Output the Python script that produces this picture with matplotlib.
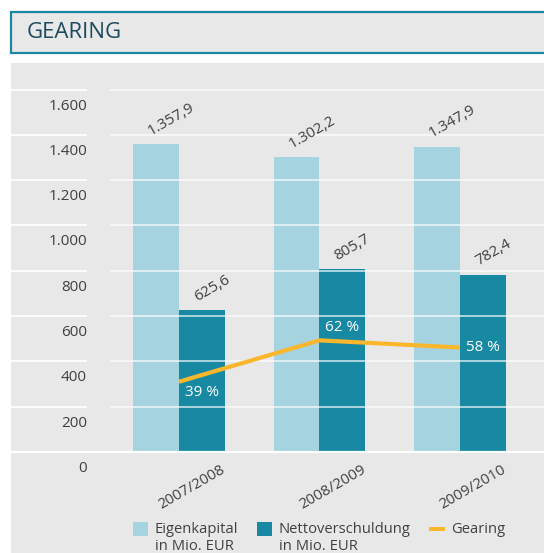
import matplotlib.pyplot as plt
import numpy as np
from matplotlib.patches import Rectangle, Patch
from matplotlib.legend_handler import HandlerPatch
from matplotlib.transforms import ScaledTranslation

plt.rcParams['font.family'] = ['Open Sans', 'DejaVu Sans']

# data
years = ["2007/2008", "2008/2009", "2009/2010"]
equity = [1357.9, 1302.2, 1347.9]        # Eigenkapital, Mio. EUR
net_debt = [625.6, 805.7, 782.4]         # Nettoverschuldung, Mio. EUR
gearing = [39, 62, 58]                   # %
y_ticks = [0, 200, 400, 600, 800, 1000, 1200, 1400, 1600]
y_tick_labels = ["0", "200", "400", "600", "800", "1.000", "1.200", "1.400", "1.600"]

LIGHT = "#a5d3df"
DARK = "#1789a3"
ORANGE = "#fbb72b"
BG = "#e8e8e8"
TXT = "#404040"

W, H = 544, 553
fig = plt.figure(figsize=(W / 100, H / 100), dpi=100)
fig.patch.set_facecolor("white")


def de(v):
    # german number format: 1.357,9
    return f"{v:,.1f}".replace(",", "X").replace(".", ",").replace("X", ".")


# header box and chart panel
fig.add_artist(Rectangle((11 / W, 1 - 53 / H), 540 / W, 41 / H, transform=fig.transFigure,
                         facecolor=BG, edgecolor="#1a87a3", lw=1.6, zorder=-2))
fig.text(27 / W, 1 - 33 / H, "GEARING", fontsize=16, color="#1d4a5d", va="center", ha="left")
fig.add_artist(Rectangle((11 / W, 0), 533 / W, 1 - 63 / H, transform=fig.transFigure,
                         facecolor=BG, edgecolor="none", zorder=-2))

ax = fig.add_axes([110 / W, 1 - 452 / H, 434 / W, (452 - 63) / H])
ax.patch.set_visible(False)
x = np.arange(len(years))
w = 0.327

ax.bar(x - w / 2, equity, w, color=LIGHT, zorder=1)
ax.bar(x + w / 2, net_debt, w, color=DARK, zorder=1)

ax.set_xlim(-0.491, 2.598)
ax.set_ylim(0, 1717)
for s in ax.spines.values():
    s.set_visible(False)
ax.tick_params(length=0)

# gridlines over the bars, plus the short pieces left of the gap
ax.set_yticks(y_ticks)
ax.set_yticklabels(y_tick_labels, fontsize=11, color=TXT)
ax.yaxis.grid(True, color="white", lw=1.2, alpha=0.75, zorder=2)
ax.set_axisbelow(False)
ax.hlines(y_ticks[1:], -0.228, -0.053, transform=ax.get_yaxis_transform(),
          color="white", lw=1.2, clip_on=False)
ax.hlines([0], -0.228, 1.0, transform=ax.get_yaxis_transform(),
          color="white", lw=1.6, clip_on=False, zorder=3)
ax.tick_params(axis="y", pad=16.5)
down = ScaledTranslation(0, -0.145, fig.dpi_scale_trans)
for lbl in ax.get_yticklabels():
    lbl.set_transform(lbl.get_transform() + down)

ax.set_xticks(x)
ax.set_xticklabels(years, fontsize=10.8, color=TXT)
ax.tick_params(axis="x", pad=0)
shift = ScaledTranslation(0.13, -0.35, fig.dpi_scale_trans)
for lbl in ax.get_xticklabels():
    lbl.set_rotation(30)
    lbl.set_rotation_mode("anchor")
    lbl.set_ha("center")
    lbl.set_va("center")
    lbl.set_transform(lbl.get_transform() + shift)

# value labels above the bars
for xi, v in zip(x - w / 2, equity):
    ax.annotate(de(v), (xi, v), xytext=(-3.5, 6.5), textcoords="offset points",
                rotation=30, rotation_mode="anchor", ha="left", va="baseline",
                fontsize=11, color=TXT)
for xi, v in zip(x + w / 2, net_debt):
    ax.annotate(de(v), (xi, v), xytext=(-3.5, 6.5), textcoords="offset points",
                rotation=30, rotation_mode="anchor", ha="left", va="baseline",
                fontsize=11, color=TXT)

# gearing on its own scale
ax2 = ax.twinx()
ax2.set_ylim(0, 216)
ax2.axis("off")
ax2.plot(x, gearing, color=ORANGE, lw=3, solid_capstyle="butt")
label_dy = [-8, 9.5, 0]
for xi, g, dy in zip(x + w / 2, gearing, label_dy):
    ax2.annotate(f"{g} %", (xi, g), xytext=(0, dy), textcoords="offset points",
                 ha="center", va="center", fontsize=11, color="white")


# legend: handle sits next to the first line of a two-line label
def square(legend, orig_handle, xdescent, ydescent, width, height, fontsize):
    return Rectangle((-xdescent, -ydescent + 6.8), width, height)


def bar_line(legend, orig_handle, xdescent, ydescent, width, height, fontsize):
    return Rectangle((-xdescent, -ydescent + 6.8 + height / 2 - 1.5), width, 3)


h_eq = Patch(facecolor=LIGHT)
h_nd = Patch(facecolor=DARK)
h_g = Patch(facecolor=ORANGE)
leg = fig.legend([h_eq, h_nd, h_g],
                 ["Eigenkapital\nin Mio. EUR", "Nettoverschuldung\nin Mio. EUR", "Gearing\n "],
                 handler_map={h_eq: HandlerPatch(patch_func=square),
                              h_nd: HandlerPatch(patch_func=square),
                              h_g: HandlerPatch(patch_func=bar_line)},
                 loc="upper left", bbox_to_anchor=(127 / W, 1 - 516 / H), ncol=3,
                 frameon=False, fontsize=10.6, labelcolor=TXT, handlelength=1.05,
                 handleheight=1.05, handletextpad=0.45, columnspacing=1.25,
                 borderaxespad=0)

fig.savefig("out.png", dpi=100)
